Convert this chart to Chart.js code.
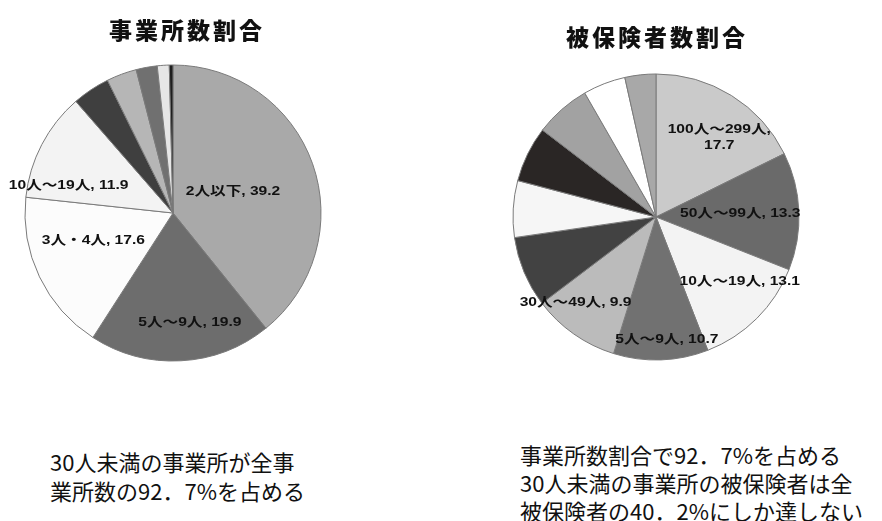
<!DOCTYPE html>
<html lang="ja">
<head>
<meta charset="utf-8">
<script src="https://cdn.jsdelivr.net/npm/chart.js@4.4.1/dist/chart.umd.min.js"></script>
<style>
  html, body { margin: 0; padding: 0; background: #fff; }
  #wrap { position: relative; width: 882px; height: 521px; overflow: hidden; background: #fff; }
  canvas { position: absolute; }
  .title { position: absolute; font-family: "Noto Sans CJK JP", sans-serif; font-weight: 900; font-size: 23px; letter-spacing: 3px; color: #111; white-space: nowrap; text-align: center; line-height: 1; }
  .cap { position: absolute; font-family: "Noto Sans CJK JP", sans-serif; font-size: 22px; color: #111; white-space: nowrap; letter-spacing: 0px; }
</style>
</head>
<body>
<div id="wrap">
  <canvas id="left" width="346" height="426" style="left:0px;top:0px;"></canvas>
  <canvas id="right" width="432" height="434" style="left:440px;top:0px;"></canvas>
  <div class="title" id="t1" style="left:87px;top:18px;width:200px;"></div>
  <div class="title" id="t2" style="left:557px;top:25px;width:200px;"></div>
  <div class="cap" id="c1" style="left:50px;top:447px;line-height:29px;"></div>
  <div class="cap" id="c2" style="left:520px;top:440px;line-height:28px;"></div>
</div>
<script>
// ---- data ----
const leftTitle = '事業所数割合';
const rightTitle = '被保険者数割合';

const leftCategories = ['2人以下', '5人～9人', '3人・4人', '10人～19人', '20人～29人', '30人～49人', '50人～99人', '100人～299人', '300人以上'];
const leftValues = [39.2, 19.9, 17.6, 11.9, 4.1, 3.3, 2.3, 1.3, 0.4];
const leftShowLabel = [true, true, true, true, false, false, false, false, false];

const rightCategories = ['100人～299人', '50人～99人', '10人～19人', '5人～9人', '30人～49人', '区分6', '区分7', '区分8', '区分9', '区分10', '区分11'];
const rightValues = [17.7, 13.3, 13.1, 10.7, 9.9, 8.0, 6.4, 6.3, 6.3, 4.8, 3.5];
const rightShowLabel = [true, true, true, true, true, false, false, false, false, false, false];

const leftCaption = ['30人未満の事業所が全事', '業所数の92．7%を占める'];
const rightCaption = ['事業所数割合で92．7%を占める', '30人未満の事業所の被保険者は全', '被保険者の40．2%にしか達しない'];

// ---- styles ----
const leftColors = ['#a9a9a9', '#6d6d6d', '#fcfcfc', '#f3f3f3', '#3f3f3f', '#b6b6b6', '#707070', '#e6e6e6', '#1e1e1e'];
const rightColors = ['#cacaca', '#6a6a6a', '#f3f3f3', '#717171', '#bbbbbb', '#424242', '#f6f6f6', '#2a2625', '#a2a2a2', '#ffffff', '#a8a8a8'];
// label placement: [fraction of radius, angle shift in degrees (clockwise)]
const leftLabelPos = [[0.43, 0], [0.75, -5.7], [0.57, 6.3], [0.73, -12.6]];
const rightLabelPos = [[0.71, 6.7], [0.59, -0.4], [0.74, -7.5], [0.86, -3.1], [0.82, 8.2]];
const rightWrap = [true, false, false, false, false];

document.getElementById('t1').textContent = leftTitle;
document.getElementById('t2').textContent = rightTitle;
document.getElementById('c1').innerHTML = leftCaption.join('<br>');
document.getElementById('c2').innerHTML = rightCaption.join('<br>');

function buildTexts(cats, vals, show, wrap) {
  return cats.map((c, i) => {
    if (!show[i]) return null;
    const w = wrap && wrap[i];
    return c + ',' + (w ? '\n' : ' ') + vals[i].toFixed(1);
  });
}

const sliceLabels = {
  id: 'sliceLabels',
  afterDatasetsDraw(chart, args, opts) {
    const ctx = chart.ctx;
    const meta = chart.getDatasetMeta(0);
    meta.data.forEach((arc, i) => {
      const text = opts.texts[i];
      if (!text) return;
      const p = opts.pos[i];
      const a = arc.getProps(['x', 'y', 'startAngle', 'endAngle', 'outerRadius'], true);
      const mid = (a.startAngle + a.endAngle) / 2 + p[1] * Math.PI / 180;
      const r = a.outerRadius * p[0];
      const px = a.x + Math.cos(mid) * r;
      const py = a.y + Math.sin(mid) * r;
      ctx.save();
      ctx.translate(px, py);
      ctx.scale(1.2, 1);
      ctx.font = 'bold 13px "Liberation Sans", "Noto Sans CJK JP", sans-serif';
      ctx.fillStyle = '#111';
      ctx.textAlign = 'center';
      ctx.textBaseline = 'middle';
      const lines = text.split('\n');
      lines.forEach((l, k) => ctx.fillText(l, 0, (k - (lines.length - 1) / 2) * 16));
      ctx.restore();
    });
  }
};

function makePie(id, cats, vals, colors, radius, texts, pos) {
  new Chart(document.getElementById(id), {
    type: 'pie',
    data: {
      labels: cats,
      datasets: [{
        data: vals,
        backgroundColor: colors,
        borderColor: '#7a7a7a',
        borderWidth: 1,
        borderAlign: 'center'
      }]
    },
    options: {
      responsive: false,
      animation: false,
      radius: radius,
      layout: { padding: 0 },
      plugins: {
        legend: { display: false },
        tooltip: { enabled: false },
        title: { display: false },
        sliceLabels: { texts: texts, pos: pos }
      }
    },
    plugins: [sliceLabels]
  });
}

const leftTexts = buildTexts(leftCategories, leftValues, leftShowLabel, null);
const rightTexts = buildTexts(rightCategories, rightValues, rightShowLabel, rightWrap);
makePie('left', leftCategories, leftValues, leftColors, 148, leftTexts, leftLabelPos);
makePie('right', rightCategories, rightValues, rightColors, 143, rightTexts, rightLabelPos);
</script>
</body>
</html>
